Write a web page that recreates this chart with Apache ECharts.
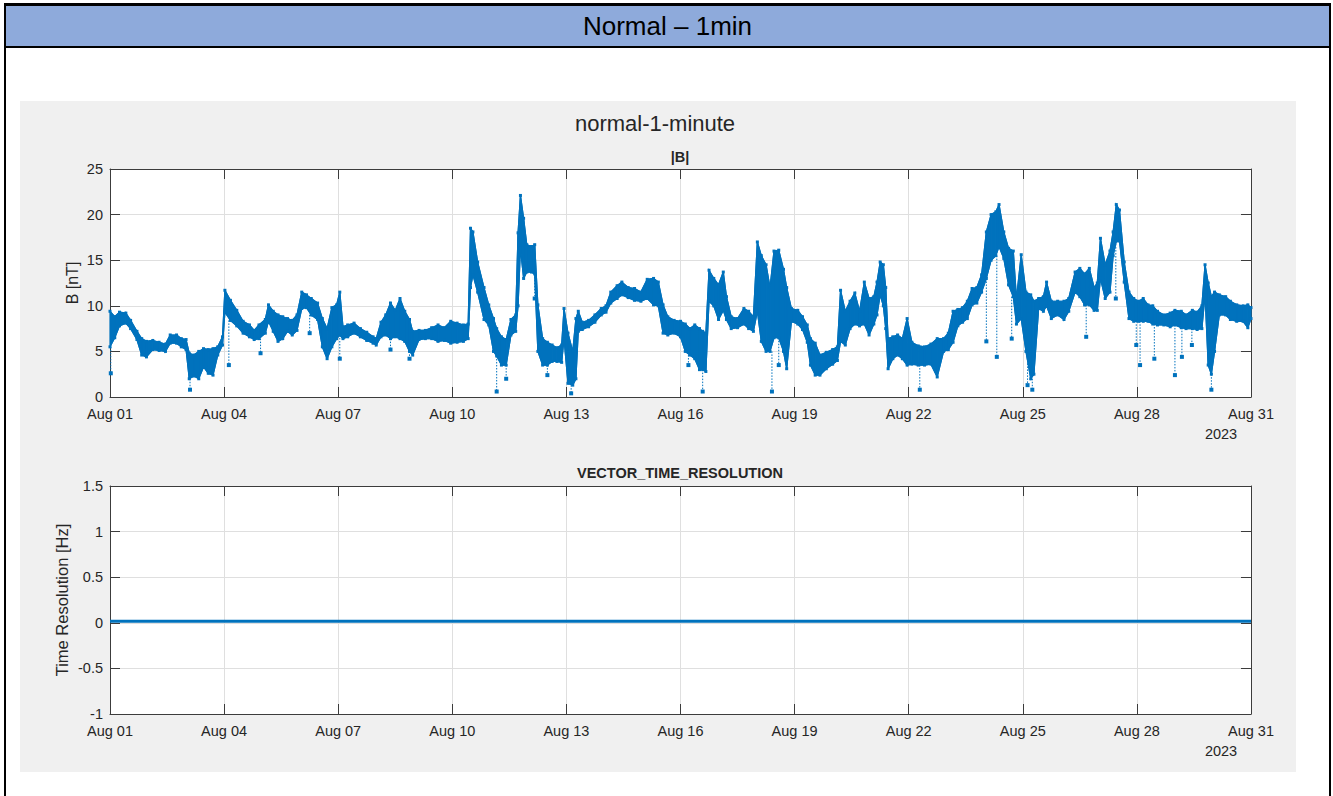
<!DOCTYPE html>
<html>
<head>
<meta charset="utf-8">
<script src="https://cdn.jsdelivr.net/npm/echarts@6/dist/echarts.min.js"></script>
<style>
html,body{margin:0;padding:0;width:1333px;height:796px;overflow:hidden;background:#fff;font-family:"Liberation Sans",Arial,Helvetica,sans-serif;}
.blk{position:absolute;background:#000;}
#hdr{position:absolute;left:6px;top:6px;width:1323px;height:40px;background:#8eaadb;color:#000;font-size:26px;line-height:40px;text-align:center;}
#chart{position:absolute;left:0;top:0;width:1333px;height:796px;}
</style>
</head>
<body>
<div id="hdr">Normal – 1min</div>
<div class="blk" style="left:4px;top:3px;width:1327px;height:3px;"></div>
<div class="blk" style="left:4px;top:46px;width:1327px;height:2px;"></div>
<div class="blk" style="left:4px;top:3px;width:2px;height:793px;"></div>
<div class="blk" style="left:1329px;top:3px;width:2px;height:793px;"></div>
<div id="chart"></div>
<script>
// ---- data (hours since 2023-08-01 00:00) ----
const B_HOURS = [0,3,6,10,13,17,20,23,27,31,35,38,42,45,48,50,53,56,59,62,65,68,71,72.5,76,80,84,88,91,94,98,100,103,106,109,112,115,118,121,124,127,131,134,137,140,143,145,147,150,154,158,162,166,168,171,174,177,180,183,186,189,191,195,199,203,207,211,215,219,223,226,227.5,229,232,236,239,242,244,247,250,253,256,257.5,259,261,263,266,268,270,273,276,279,282,285,286.5,289,292,294,295.5,298,302,306,310,313,316,320,323,327,331,335,339,343,346,349,352,356,360,363,366,369,372,374,376,378,381,384,387,389,392,396,400,403,406,408.5,411,414,416.5,419,422,425,427,430,434,437,440,442,445,448,452,456,459,461,464,467,470,473,476,479,482,484,486,488,489.5,491,494,497,500,503,506,510,514,518,522,526,529,532,535,538,541,544,547,550,553,556,559,561,564,567,570,572,575,578,581,583,586,589,591,594,598,602,605,609,612,615,618,621,623,625,628,631,633,635,637,640,643,646,649,652,655,658,661,665,669,672,676,679,683,686,689,691,693,695,697,700,704,707,711,715,718,720];
const B_HIGH = [9.4,8.8,9.3,9.2,8.4,7.2,6.4,6.1,6.2,6.0,5.8,6.8,6.8,6.4,6.3,4.8,4.6,5.0,5.3,5.2,5.3,5.5,6.6,11.7,10.6,9.5,8.3,7.9,7.3,7.9,8.5,10.1,9.4,9.0,8.8,8.6,8.4,9.0,11.5,11.2,10.8,10.3,8.6,7.5,9.8,10.1,11.5,7.7,7.9,8.1,7.5,7.1,6.6,6.4,8.2,9.0,10.3,9.5,10.8,9.4,8.5,7.2,7.3,7.3,7.6,7.9,7.6,8.3,8.1,7.9,8.0,18.5,18.1,14.8,12.0,10.1,8.6,7.5,6.6,6.3,8.5,9.0,18.0,22.1,19.6,16.7,16.5,16.7,10.1,6.4,6.0,5.7,5.4,5.7,9.7,7.0,5.0,8.6,9.4,8.2,8.4,9.0,9.7,10.0,11.5,12.2,12.6,12.0,11.9,11.5,12.9,13.0,12.6,10.1,8.8,8.4,8.3,8.0,7.5,7.9,7.5,7.2,7.0,13.9,13.0,12.3,13.7,11.0,8.8,8.6,9.7,9.4,8.8,17.0,15.5,14.5,12.0,16.0,16.1,14.0,12.0,9.7,9.5,8.8,7.9,6.4,5.9,4.6,4.9,5.2,5.5,11.7,9.4,10.5,11.4,9.4,12.6,10.8,11.0,12.6,14.8,14.5,12.0,6.4,6.6,6.8,6.4,8.6,6.0,5.6,5.5,5.8,6.4,6.4,7.0,9.4,9.6,9.8,10.5,11.9,12.0,13.4,18.1,20.0,20.3,21.1,18.1,16.3,16.0,10.8,15.6,11.5,11.2,10.5,10.8,11.0,12.6,10.5,10.5,10.5,10.8,13.7,14.1,13.5,14.1,12.0,12.5,17.4,14.5,16.0,18.1,21.1,20.5,14.8,11.5,10.8,10.5,10.8,10.1,10.0,9.4,9.0,9.2,9.5,9.4,9.0,9.5,9.3,10.0,14.5,12.5,11.0,11.5,11.2,11.0,10.5,10.1,10.0,10.1,9.8];
const B_LOW = [5.5,6.5,7.8,8.1,7.5,6.3,4.6,4.4,5.2,5.1,5.0,5.9,5.9,5.5,5.2,2.0,2.3,2.0,3.3,2.6,2.4,4.6,5.7,9.3,8.4,7.8,7.0,6.6,6.3,6.4,7.0,8.3,7.2,6.1,6.4,7.2,6.8,7.3,9.7,9.8,9.0,8.5,5.5,4.2,5.5,6.4,6.8,6.4,6.6,7.0,6.6,6.2,5.9,5.7,6.6,6.8,6.4,6.6,6.4,6.1,5.0,4.6,6.3,6.4,6.4,6.1,6.2,5.9,6.0,6.1,6.4,12.0,13.4,11.5,8.5,7.9,5.0,4.5,3.5,3.5,6.8,7.2,10.0,16.3,13.0,13.7,13.7,13.5,5.0,3.5,3.5,3.9,3.9,3.8,6.4,1.5,1.3,2.0,7.2,7.4,7.7,8.2,9.0,9.3,10.3,10.8,11.2,10.9,10.6,10.5,10.8,10.1,10.0,7.0,6.8,7.0,6.6,5.0,4.6,4.2,3.0,3.0,2.8,10.5,10.0,8.5,9.5,8.5,7.5,7.6,8.0,7.5,7.2,9.4,6.1,5.0,5.0,6.5,6.5,5.0,3.1,8.3,8.0,7.4,6.0,3.5,2.4,2.4,3.1,3.6,4.0,6.1,5.7,7.5,8.0,7.8,8.0,6.8,8.0,9.0,11.2,10.0,7.5,3.1,4.2,4.6,4.2,3.5,3.6,3.5,3.5,3.6,2.2,5.0,5.2,6.0,7.8,8.2,8.6,10.1,10.3,11.5,13.0,15.0,15.5,16.5,15.2,12.3,11.0,8.0,8.6,5.0,2.0,2.5,9.7,9.4,10.0,8.6,9.0,8.5,9.4,11.5,11.0,10.1,10.1,9.5,9.5,13.0,10.8,11.5,15.5,17.1,17.1,12.6,8.6,8.3,8.3,8.3,8.3,8.0,7.9,7.9,7.7,7.9,7.6,7.5,7.5,7.4,7.5,11.2,3.5,2.5,5.0,9.0,9.0,8.5,8.3,8.3,7.6,8.6];
const DIP_HOURS = [0.5,50.5,75,95,126,145,177,189,244,250,268,276,291,365,374,417.7,422,511,553,559.6,569,579,582,616,634.7,647.6,650,659,672,676.4,682.7,695];
const DIP_VALUES = [2.6,0.8,3.5,4.8,7.0,4.2,5.2,4.2,0.6,2.0,10.8,2.4,0.4,3.5,0.6,0.6,3.5,0.8,6.1,4.4,6.4,1.3,0.8,6.6,10.8,5.7,3.5,4.2,2.4,4.4,5.7,0.8];
const TR_HOURS = [0, 720];
const TR_VALUES = [0.0167, 0.0167];
const X_TICK_LABELS = ['Aug 01','Aug 04','Aug 07','Aug 10','Aug 13','Aug 16','Aug 19','Aug 22','Aug 25','Aug 28','Aug 31'];

const BLUE = '#0072BD';
const FONT = '"Liberation Sans", Arial, Helvetica, sans-serif';
const TXT = '#262626';
const AX = '#3c3c3c';

const bandData = [];
for (let i = 0; i < B_HOURS.length - 1; i++) {
  bandData.push([B_HOURS[i], B_HIGH[i], B_LOW[i], B_HOURS[i+1], B_HIGH[i+1], B_LOW[i+1]]);
}
const dipData = DIP_HOURS.map((h, k) => {
  let best = 0;
  for (let i = 1; i < B_HOURS.length; i++) if (Math.abs(B_HOURS[i] - h) < Math.abs(B_HOURS[best] - h)) best = i;
  return [h, B_LOW[best], DIP_VALUES[k]];
});

const chart = echarts.init(document.getElementById('chart'), null, {renderer: 'svg', width: 1333, height: 796});

function xAx(grid, main) {
  return {
    gridIndex: grid, type: 'value', min: 0, max: 720, interval: 72,
    position: main ? 'bottom' : 'top', z: 5,
    axisLine: {show: true, onZero: false, lineStyle: {color: AX, width: 1}},
    axisTick: {show: true, inside: true, length: 10, lineStyle: {color: AX}},
    axisLabel: {show: main, margin: 9, fontSize: 14.5, color: TXT, fontFamily: FONT,
      formatter: v => X_TICK_LABELS[Math.round(v / 72)]},
    splitLine: {show: main, lineStyle: {color: '#dfdfdf', width: 1}}
  };
}
function yAx(grid, main, mn, mx, iv) {
  return {
    gridIndex: grid, type: 'value', min: mn, max: mx, interval: iv,
    position: main ? 'left' : 'right', z: 5,
    axisLine: {show: true, onZero: false, lineStyle: {color: AX, width: 1}},
    axisTick: {show: true, inside: true, length: 10, lineStyle: {color: AX}},
    axisLabel: {show: main, margin: 7, fontSize: 14.5, color: TXT, fontFamily: FONT},
    splitLine: {show: main, lineStyle: {color: '#dfdfdf', width: 1}}
  };
}
function txt(text, x, y, size, opts) {
  opts = opts || {};
  return {
    type: 'text', x: x, y: y, rotation: opts.rot || 0, silent: true, z: 100,
    style: {text: text, x: 0, y: 0, fill: TXT, fontSize: size, fontFamily: FONT,
      fontWeight: opts.bold ? 'bold' : 'normal',
      align: 'center', verticalAlign: 'middle', textAlign: 'center', textVerticalAlign: 'middle'}
  };
}
function box(x, y, w, h, color, z) {
  return {type: 'rect', silent: true, z: z, shape: {x: x, y: y, width: w, height: h}, style: {fill: color}};
}

chart.setOption({
  backgroundColor: 'transparent',
  animation: false,
  grid: [
    {left: 110, top: 169, width: 1141, height: 228, z: 5},
    {left: 110, top: 486, width: 1141, height: 228, z: 5}
  ],
  xAxis: [xAx(0, true), xAx(0, false), xAx(1, true), xAx(1, false)],
  yAxis: [yAx(0, true, 0, 25, 5), yAx(0, false, 0, 25, 5), yAx(1, true, -1, 1.5, 0.5), yAx(1, false, -1, 1.5, 0.5)],
  graphic: [
    box(20, 101, 1276, 671, '#f0f0f0', -20),
    box(110, 169, 1141, 228, '#ffffff', -19),
    box(110, 486, 1141, 228, '#ffffff', -19),
    txt('normal-1-minute', 655, 123, 22),
    txt('|B|', 680, 157, 14.5, {bold: true}),
    txt('VECTOR_TIME_RESOLUTION', 680, 473, 14.5, {bold: true}),
    txt('B [nT]', 72, 283, 16, {rot: Math.PI / 2}),
    txt('Time Resolution [Hz]', 62, 600, 16.5, {rot: Math.PI / 2}),
    txt('2023', 1221, 434, 14.5),
    txt('2023', 1221, 751, 14.5)
  ],
  series: [
    {
      type: 'custom', xAxisIndex: 0, yAxisIndex: 0, silent: true, z: 10,
      data: bandData, encode: {x: [0, 3], y: [1, 2, 4, 5]},
      renderItem: (params, api) => {
        const p1 = api.coord([api.value(0), api.value(1)]);
        const p2 = api.coord([api.value(3), api.value(4)]);
        const p3 = api.coord([api.value(3), api.value(5)]);
        const p4 = api.coord([api.value(0), api.value(2)]);
        return {type: 'polygon', shape: {points: [p1, p2, p3, p4]}, style: {fill: BLUE, stroke: BLUE, lineWidth: 1.2}};
      }
    },
    {
      type: 'line', xAxisIndex: 0, yAxisIndex: 0, silent: true, z: 11,
      data: B_HOURS.map((h, i) => [h, B_HIGH[i]]),
      symbol: 'rect', symbolSize: 3, showAllSymbol: true,
      lineStyle: {color: BLUE, width: 1.2}, itemStyle: {color: BLUE}
    },
    {
      type: 'line', xAxisIndex: 0, yAxisIndex: 0, silent: true, z: 11,
      data: B_HOURS.map((h, i) => [h, B_LOW[i]]),
      symbol: 'rect', symbolSize: 3, showAllSymbol: true,
      lineStyle: {color: BLUE, width: 1.2}, itemStyle: {color: BLUE}
    },
    {
      type: 'custom', xAxisIndex: 0, yAxisIndex: 0, silent: true, z: 11,
      data: dipData, encode: {x: 0, y: [1, 2]},
      renderItem: (params, api) => {
        const a = api.coord([api.value(0), api.value(1)]);
        const b = api.coord([api.value(0), api.value(2)]);
        return {type: 'group', children: [
          {type: 'line', shape: {x1: a[0], y1: a[1], x2: b[0], y2: b[1]}, style: {stroke: BLUE, lineWidth: 1, lineDash: [1.5, 1.5]}},
          {type: 'rect', shape: {x: b[0] - 2, y: b[1] - 2, width: 4, height: 4}, style: {fill: BLUE}}
        ]};
      }
    },
    {
      type: 'line', xAxisIndex: 2, yAxisIndex: 2, silent: true, z: 11,
      data: TR_HOURS.map((h, i) => [h, TR_VALUES[i]]),
      symbol: 'none', lineStyle: {color: BLUE, width: 3}
    }
  ]
});
</script>
</body>
</html>
